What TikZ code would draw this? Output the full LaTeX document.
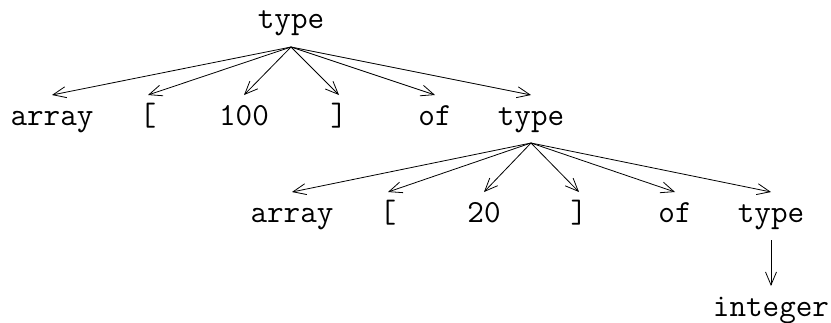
\documentclass[tikz,border=0pt]{standalone}
\usepackage{fontspec}
\usetikzlibrary{arrows.meta,calc}
\tikzset{
  lbl/.style={anchor=base, inner sep=0pt, font=\ttfamily\fontsize{32.2}{34}\selectfont},
  edge/.style={line width=0.8pt, -{Straight Barb[length=13pt,width=11pt,line width=0.8pt]}}
}
\begin{document}
\begin{tikzpicture}[x=1pt,y=-1pt]
\useasboundingbox (0,0) rectangle (831,322);
% row 0
\node[lbl] (t0) at (291,28) {type};
% row 1
\node[lbl] (a1) at (52,125) {array};
\node[lbl] (l1) at (148,125) {[};
\node[lbl] (n1) at (244,125) {100};
\node[lbl] (r1) at (339,125) {]};
\node[lbl] (o1) at (435,125) {of};
\node[lbl] (t1) at (531,125) {type};
% row 2
\node[lbl] (a2) at (292,222) {array};
\node[lbl] (l2) at (388,222) {[};
\node[lbl] (n2) at (484,222) {20};
\node[lbl] (r2) at (579,222) {]};
\node[lbl] (o2) at (675,222) {of};
\node[lbl] (t2) at (771,222) {type};
% row 3
\node[lbl] (i3) at (771,316) {integer};
% origins
\coordinate (s0) at ($(t0.base)+(0,19)$);
\coordinate (s1) at ($(t1.base)+(0,18)$);
\coordinate (s2) at ($(t2.base)+(0,18)$);
% edges
\foreach \n in {a1,l1,n1,r1,o1,t1}
  \draw[edge] (s0) -- ($(\n.base)+(0,-30)$);
\foreach \n in {a2,l2,n2,r2,o2,t2}
  \draw[edge] (s1) -- ($(\n.base)+(0,-30)$);
\draw[edge] (s2) -- ($(i3.base)+(0,-30)$);
\end{tikzpicture}
\end{document}
